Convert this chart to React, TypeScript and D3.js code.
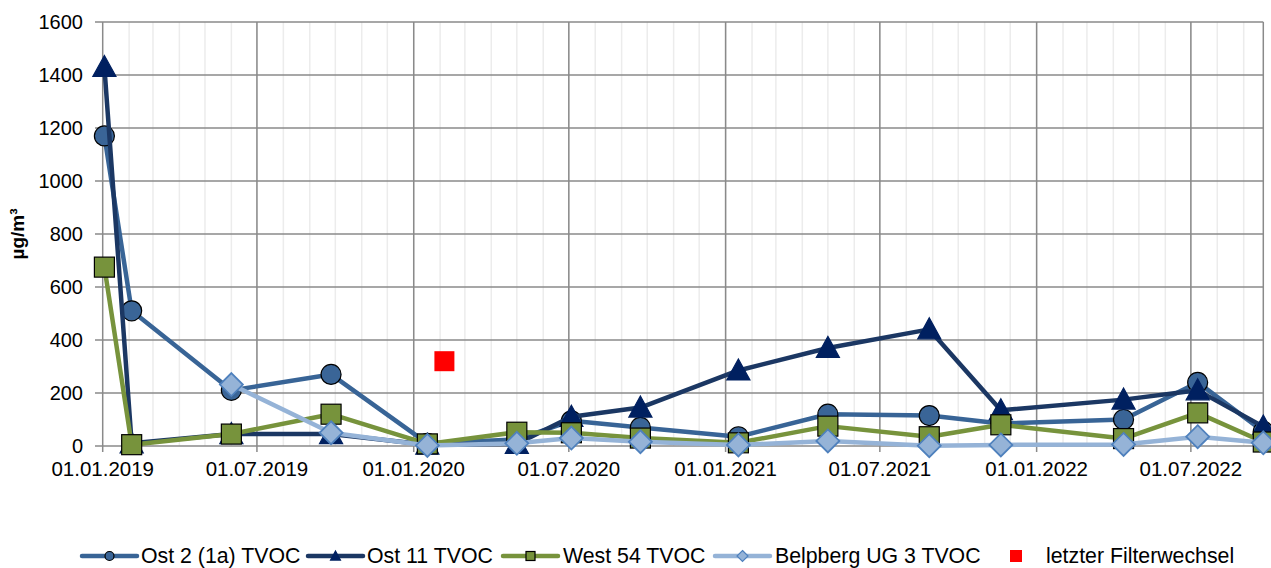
import React from "react";
import * as d3 from "d3";

const dates = [
  "2019-01-03", "2019-02-04", "2019-06-01", "2019-09-26", "2020-01-17",
  "2020-05-01", "2020-07-04", "2020-09-23", "2021-01-16", "2021-05-01",
  "2021-08-28", "2021-11-20", "2022-04-13", "2022-07-09", "2022-09-24",
];
const ost2 = [1170, 510, 210, 270, 10, 25, 95, 70, 35, 120, 115, 85, 100, 240, 55];
const ost11 = [1430, 10, 45, 45, 5, 8, 110, 145, 285, 370, 440, 135, 175, 210, 73];
const west54 = [675, 5, 45, 120, 8, 52, 50, 30, 12, 75, 35, 80, 28, 125, 15];
const belpberg: (number | null)[] = [null, null, 232, 50, 2, 10, 30, 16, 4, 19, 1, 4, 6, 35, 12];
const filterDate = "2020-02-06";
const filterValue = 320;

const yTicks = [0, 200, 400, 600, 800, 1000, 1200, 1400, 1600];
const xTickLabels = [
  "01.01.2019", "01.07.2019", "01.01.2020", "01.07.2020",
  "01.01.2021", "01.07.2021", "01.01.2022", "01.07.2022",
];
const seriesNames = ["Ost 2 (1a) TVOC", "Ost 11 TVOC", "West 54 TVOC", "Belpberg UG 3 TVOC"];
const filterName = "letzter Filterwechsel";

const parse = d3.timeParse("%Y-%m-%d");
const parseLabel = d3.timeParse("%d.%m.%Y");

const W = 1271;
const H = 568;
const x = d3
  .scaleTime()
  .domain([parse("2019-01-01")!, parse("2022-09-24")!])
  .range([102.7, 1263.3]);
const y = d3.scaleLinear().domain([0, 1600]).range([446, 22]);

const FONT = "Liberation Sans, Arial, sans-serif";

type Marker = "circle" | "triangle" | "square" | "diamond";

const seriesDefs = [
  { name: seriesNames[0], values: ost2 as (number | null)[], line: "#386496", fill: "#3a6597", stroke: "#000", marker: "circle" as Marker },
  { name: seriesNames[1], values: ost11 as (number | null)[], line: "#1b3763", fill: "#002060", stroke: "#002060", marker: "triangle" as Marker },
  { name: seriesNames[2], values: west54 as (number | null)[], line: "#77933c", fill: "#77933c", stroke: "#000", marker: "square" as Marker },
  { name: seriesNames[3], values: belpberg, line: "#95b3d7", fill: "#95b3d7", stroke: "#4f81bd", marker: "diamond" as Marker },
];

function MarkerShape({ type, cx, cy, s, fill, stroke, sw }: { type: Marker; cx: number; cy: number; s: number; fill: string; stroke: string; sw: number }) {
  if (type === "circle") return <circle cx={cx} cy={cy} r={s / 2} fill={fill} stroke={stroke} strokeWidth={sw} />;
  if (type === "square")
    return <rect x={cx - s / 2} y={cy - s / 2} width={s} height={s} fill={fill} stroke={stroke} strokeWidth={sw} />;
  if (type === "diamond") {
    const h = s / 2 + 1;
    return (
      <path d={`M${cx},${cy - h}L${cx + h},${cy}L${cx},${cy + h}L${cx - h},${cy}Z`} fill={fill} stroke={stroke} strokeWidth={sw} />
    );
  }
  const w = s * 1.1;
  const hh = s;
  return (
    <path
      d={`M${cx},${cy - hh * 0.55}L${cx + w / 2},${cy + hh * 0.45}L${cx - w / 2},${cy + hh * 0.45}Z`}
      fill={fill}
      stroke={stroke}
      strokeWidth={sw}
    />
  );
}

export default function App() {
  const dts = dates.map((d) => parse(d)!);
  const minorTicks = d3.timeMonth.range(parse("2019-02-01")!, parse("2022-09-24")!);
  const majorDates = xTickLabels.map((l) => parseLabel(l)!);
  const lineGen = d3
    .line<[Date, number | null]>()
    .defined((d) => d[1] != null)
    .x((d) => x(d[0]))
    .y((d) => y(d[1] as number));

  const legendItems = [
    { lx: 82, tx: 141 },
    { lx: 308, tx: 367 },
    { lx: 503, tx: 563 },
    { lx: 715, tx: 775 },
  ];

  return (
    <svg width={W} height={H} style={{ position: "absolute", left: 0, top: 0, background: "#fff" }} fontFamily={FONT}>
      <rect x={0} y={0} width={W} height={H} fill="#fff" />
      {/* minor grid */}
      {minorTicks.map((d, i) => (
        <line key={"m" + i} x1={x(d)} x2={x(d)} y1={y(1600)} y2={y(0)} stroke="#ececec" strokeWidth={1.5} />
      ))}
      {/* horizontal grid */}
      {yTicks.map((t) => (
        <line key={"h" + t} x1={95} x2={x.range()[1]} y1={y(t)} y2={y(t)} stroke="#8a8a8a" strokeWidth={1.5} />
      ))}
      {/* major vertical grid */}
      {majorDates.map((d, i) => (
        <line key={"v" + i} x1={x(d)} x2={x(d)} y1={y(1600)} y2={y(0) + 6} stroke="#8a8a8a" strokeWidth={1.5} />
      ))}
      <line x1={x.range()[1]} x2={x.range()[1]} y1={y(1600)} y2={y(0)} stroke="#8a8a8a" strokeWidth={1.5} />
      {/* y tick labels */}
      {yTicks.map((t) => (
        <text key={"yl" + t} x={83} y={y(t) + 7} textAnchor="end" fontSize={20} fill="#000">
          {t}
        </text>
      ))}
      {/* x tick labels */}
      {majorDates.map((d, i) => (
        <text key={"xl" + i} x={x(d)} y={476} textAnchor="middle" fontSize={20.5} fill="#000">
          {xTickLabels[i]}
        </text>
      ))}
      {/* y axis title */}
      <text
        transform={`translate(24,234) rotate(-90)`}
        textAnchor="middle"
        fontSize={19}
        fontWeight="bold"
        fill="#000"
      >
        µg/m³
      </text>
      {/* series */}
      {seriesDefs.map((s, si) => {
        const pts: [Date, number | null][] = dts.map((d, i) => [d, s.values[i]]);
        return (
          <g key={"s" + si}>
            <path d={lineGen(pts) || ""} fill="none" stroke={s.line} strokeWidth={4.5} strokeLinejoin="round" />
            {pts.map((p, i) =>
              p[1] == null ? null : (
                <MarkerShape
                  key={i}
                  type={s.marker}
                  cx={x(p[0])}
                  cy={y(p[1])}
                  s={s.marker === "circle" ? 20 : s.marker === "triangle" ? 21 : s.marker === "square" ? 20 : 21}
                  fill={s.fill}
                  stroke={s.stroke}
                  sw={s.marker === "diamond" ? 1.8 : 1.2}
                />
              )
            )}
          </g>
        );
      })}
      {/* filter change marker */}
      <rect x={x(parse(filterDate)!) - 10} y={y(filterValue) - 10} width={20} height={20} fill="#ff0000" />
      {/* legend */}
      {seriesDefs.map((s, i) => {
        const it = legendItems[i];
        return (
          <g key={"lg" + i}>
            <line x1={it.lx} x2={it.lx + 55} y1={556} y2={556} stroke={s.line} strokeWidth={4.5} strokeLinecap="round" />
            <MarkerShape
              type={s.marker}
              cx={it.lx + 27.5}
              cy={556}
              s={9}
              fill={s.fill}
              stroke={s.stroke}
              sw={1.2}
            />
            <text x={it.tx} y={563} fontSize={21.3} fill="#000">
              {s.name}
            </text>
          </g>
        );
      })}
      <rect x={1010} y={550} width={12} height={12} fill="#ff0000" />
      <text x={1046} y={563} fontSize={21.3} fill="#000">
        {filterName}
      </text>
    </svg>
  );
}
